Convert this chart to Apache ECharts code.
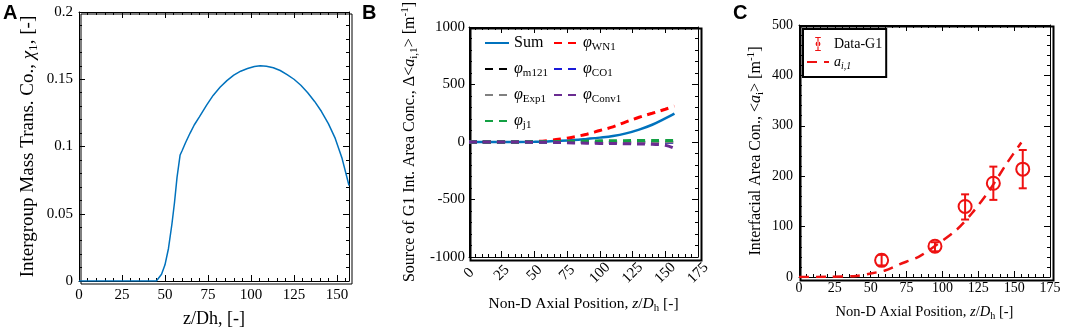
<!DOCTYPE html>
<html>
<head>
<meta charset="utf-8">
<script src="https://cdn.jsdelivr.net/npm/echarts@6/dist/echarts.min.js"></script>
<style>
  html, body { margin: 0; padding: 0; background: #fff; }
  #wrap { position: relative; width: 1065px; height: 331px; }
  .layer { position: absolute; left: 0; top: 0; width: 1065px; height: 331px; }
</style>
</head>
<body>
<div id="wrap">
  <div class="layer" id="panelA"></div>
  <div class="layer" id="panelB"></div>
  <div class="layer" id="panelC"></div>
</div>
<script>
  // ---- data ----
  // A: intergroup mass transfer coefficient vs z/Dh
  const chiCurve = [[0,0],[20,0],[45,0],[46,0.001],[48,0.005],[50,0.012],[52,0.024],[54,0.042],[55.5,0.058],[57,0.077],
    [58.8,0.0937],[60,0.097],[62,0.103],[64.6,0.110],[67,0.116],[70,0.122],[74.3,0.131],[78,0.138],[82,0.144],[86,0.149],
    [90,0.153],[94,0.156],[98,0.158],[102,0.1595],[105.4,0.160],[109,0.1597],[113,0.1585],[117,0.1565],[121,0.1535],
    [125,0.150],[129,0.1455],[133,0.140],[137,0.1335],[141,0.126],[145,0.117],[149,0.106],[153,0.091],[157,0.071]]

  // B: source terms of G1 interfacial area concentration
  const srcSum = [[0,0],[25,0],[50,2],[60,5],[70,10],[80,17],[90,27],[100,38],[110,52],[120,75],[130,108],[140,150],[150,205],[157,247]]
  const srcWN1 = [[0,0],[25,0],[50,4],[60,12],[70,26],[80,44],[90,68],[100,100],[110,132],[120,175],[130,215],[140,250],[150,285],[157,312]]
  const srcM121 = [[0,0],[60,-1],[100,-3],[157,-5]]
  const srcCO1 = [[0,0],[60,-1],[100,-3],[157,-4]]
  const srcExp1 = [[0,0],[157,0]]
  const srcConv1 = [[0,0],[60,-2],[80,-8],[100,-12],[120,-15],[140,-20],[150,-28],[157,-55]]
  const srcJ1 = [[0,0],[60,2],[100,10],[157,14]]

  // C: measured <ai> with error bars [z, value, low, high] and model curve
  const dataG1 = [[57.6,33,23,44],[94.8,61,51,69],[115.8,140,114,164],[135.5,186,153,219],[156,214,176,252]]
  const modelA1 = [[0,0],[20,0.5],[40,2],[50,7],[60,13],[70,25],[84,41],[96,64],[110,94],[121,128],[133,173],[145,226],[155,267]]

  const serif = 'Liberation Serif'
  const black = '#000'

  // rich text for sub/superscripts
  function richSet(fs) {
    return {
      i: { fontFamily: serif, fontStyle: 'italic', fontSize: fs, lineHeight: fs + 4, color: black },
      s: { fontFamily: serif, fontSize: fs * 0.7, lineHeight: fs * 0.7 + 2, verticalAlign: 'bottom', color: black },
      si: { fontFamily: serif, fontStyle: 'italic', fontSize: fs * 0.7, lineHeight: fs * 0.7 + 2, verticalAlign: 'bottom', color: black },
      p: { fontFamily: serif, fontSize: fs * 0.7, lineHeight: fs * 0.7 + 2, verticalAlign: 'top', color: black },
    }
  }

  /** one axis (main or mirrored), each panel is its own chart so gridIndex is 0 */
  function axis(o) {
    const step = o.interval
    const a = {
      type: 'value',
      gridIndex: 0,
      position: o.pos,
      min: o.min, max: o.max, interval: o.interval,
      name: o.name || '',
      nameLocation: 'middle',
      nameGap: o.nameGap || 0,
      nameRotate: o.nameRotate || 0,
      nameTextStyle: { fontFamily: serif, fontSize: o.nameSize || 15, lineHeight: (o.nameSize || 15) + 4, color: black, rich: richSet(o.nameSize || 15) },
      axisLine: { show: true, onZero: false, lineStyle: { color: black } },
      axisTick: { show: true, inside: true, length: 6, lineStyle: { color: black } },
      minorTick: { show: true, splitNumber: 5, length: 3 },
      splitLine: { show: false },
      axisLabel: {
        show: !o.mirror,
        fontFamily: serif, fontSize: o.labelSize || 15, color: black,
        margin: o.margin || 6, rotate: o.rotate || 0,
        // the end of an axis that is not on the tick step gets no label
        formatter: function (v) {
          const k = (v - o.min) / step
          return Math.abs(k - Math.round(k)) < 1e-6 ? String(v) : ''
        },
      },
    }
    if (o.rotate) {
      a.axisLabel.align = 'center'
      a.axisLabel.verticalAlign = 'middle'
    }
    return a
  }

  function letter(txt, left) {
    return { type: 'text', left: left, top: 3, style: { text: txt, fontFamily: 'Liberation Sans', fontWeight: 'bold', fontSize: 20, fill: black } }
  }

  const legendRich = {
    ph: { fontFamily: serif, fontStyle: 'italic', fontSize: 16, lineHeight: 20, color: black },
    s: { fontFamily: serif, fontSize: 11, lineHeight: 13, verticalAlign: 'bottom', color: black },
  }
  function phiFmt(name) {
    if (name[0] === 'φ') return '{ph|φ}{s|' + name.slice(1) + '}'
    return name
  }

  const dash = [8, 6]

  // ---- panel A ----
  const optionA = {
    animation: false,
    grid: [{ left: 79, top: 12, width: 270, height: 269, outerBoundsMode: 'none' }],
    graphic: [
      letter('A', 3),
      { type: 'rect', left: 78.5, top: 11.5, shape: { width: 271, height: 270 }, style: { fill: 'none', stroke: black, lineWidth: 1 }, z: 1 },
    ],
    xAxis: [
      axis({ pos: 'bottom', min: 0, max: 157, interval: 25, margin: 7,
        name: 'z/Dh, [-]', nameGap: 25, nameSize: 18 }),
      axis({ pos: 'top', min: 0, max: 157, interval: 25, mirror: true }),
    ],
    yAxis: [
      axis({ pos: 'left', min: 0, max: 0.2, interval: 0.05, margin: 6,
        name: 'Intergroup Mass Trans. Co., {i|χ}{s|1}, [-]', nameGap: 39, nameRotate: 90, nameSize: 19 }),
      axis({ pos: 'right', min: 0, max: 0.2, interval: 0.05, mirror: true }),
    ],
    series: [
      { name: 'chi1', type: 'line', xAxisIndex: 0, yAxisIndex: 0, data: chiCurve, symbol: 'none',
        itemStyle: { color: '#0072BD' }, lineStyle: { color: '#0072BD', width: 1.5 } },
    ],
  }

  // ---- panel B ----
  function bLine(name, data, color, solid) {
    return {
      name: name, type: 'line', xAxisIndex: 0, yAxisIndex: 0, data: data, symbol: 'none', smooth: 0.4,
      itemStyle: { color: color },
      lineStyle: { color: color, width: solid ? 2.5 : 3, type: solid ? 'solid' : dash },
    }
  }
  const optionB = {
    animation: false,
    grid: [{ left: 469, top: 27, width: 229, height: 230, outerBoundsMode: 'none' }],
    graphic: [
      letter('B', 362),
      { type: 'rect', left: 468, top: 26, shape: { width: 231, height: 232 }, style: { fill: 'none', stroke: black, lineWidth: 2 }, z: 1 },
    ],
    xAxis: [
      axis({ pos: 'bottom', min: 0, max: 175, interval: 25, rotate: 45, margin: 16,
        name: 'Non-D Axial Position, {i|z}/{i|D}{s|h} [-]', nameGap: 37, nameSize: 15.5 }),
      axis({ pos: 'top', min: 0, max: 175, interval: 25, mirror: true }),
    ],
    yAxis: [
      axis({ pos: 'left', min: -1000, max: 1000, interval: 500, margin: 4,
        name: 'Source of G1 Int. Area Conc., Δ<{i|a}{s|i,1}> [m{p|-1}]', nameGap: 49, nameRotate: 90, nameSize: 16 }),
      axis({ pos: 'right', min: -1000, max: 1000, interval: 500, mirror: true }),
    ],
    legend: [
      {
        orient: 'vertical', left: 484, top: 33, padding: 0, itemGap: 6, itemWidth: 24, itemHeight: 14,
        selectedMode: false, data: ['Sum', 'φm121', 'φExp1', 'φj1'], formatter: phiFmt,
        itemStyle: { opacity: 0 },
        textStyle: { fontFamily: serif, fontSize: 16, lineHeight: 20, color: black, rich: legendRich },
      },
      {
        orient: 'vertical', left: 553, top: 33, padding: 0, itemGap: 6, itemWidth: 24, itemHeight: 14,
        selectedMode: false, data: ['φWN1', 'φCO1', 'φConv1'], formatter: phiFmt,
        itemStyle: { opacity: 0 },
        textStyle: { fontFamily: serif, fontSize: 16, lineHeight: 20, color: black, rich: legendRich },
      },
    ],
    series: [
      bLine('Sum', srcSum, '#0072BD', true),
      bLine('φWN1', srcWN1, '#ff0000'),
      bLine('φm121', srcM121, '#000000'),
      bLine('φCO1', srcCO1, '#1a1ad8'),
      bLine('φExp1', srcExp1, '#808080'),
      bLine('φj1', srcJ1, '#13a043'),
      bLine('φConv1', srcConv1, '#6a2c91'),
    ],
  }

  // ---- panel C ----
  const optionC = {
    animation: false,
    grid: [{ left: 799, top: 25, width: 251, height: 252, outerBoundsMode: 'none' }],
    graphic: [
      letter('C', 733),
      { type: 'rect', left: 798, top: 24, shape: { width: 253, height: 254 }, style: { fill: 'none', stroke: black, lineWidth: 2 }, z: 1 },
    ],
    xAxis: [
      axis({ pos: 'bottom', min: 0, max: 175, interval: 25, labelSize: 14, margin: 4,
        name: 'Non-D Axial Position, {i|z}/{i|D}{s|h} [-]', nameGap: 26, nameSize: 14.5 }),
      axis({ pos: 'top', min: 0, max: 175, interval: 25, mirror: true }),
    ],
    yAxis: [
      axis({ pos: 'left', min: 0, max: 500, interval: 100, labelSize: 14, margin: 6,
        name: 'Interfacial Area Con., <{i|a}{s|i}> [m{p|-1}]', nameGap: 33, nameRotate: 90, nameSize: 16 }),
      axis({ pos: 'right', min: 0, max: 500, interval: 100, mirror: true }),
    ],
    legend: [
      {
        orient: 'vertical', left: 803, top: 29, padding: [6, 4, 6, 3], itemGap: 0, itemWidth: 22, itemHeight: 14,
        borderColor: black, borderWidth: 2, backgroundColor: '#fff', selectedMode: false,
        data: [
          { name: 'Data-G1', icon: 'path://M0,0H8V1.6H0Z M3.2,1.6H4.8V18.4H3.2Z M0,18.4H8V20H0Z M4,6.5A3.5,3.5 0 1,0 4.001,6.5Z' },
          { name: 'ai,1', itemStyle: { opacity: 0 } },
        ],
        formatter: function (name) {
          return name === 'ai,1' ? '{i|a}{si|i,1}' : name
        },
        textStyle: { fontFamily: serif, fontSize: 14, lineHeight: 18, color: black, rich: richSet(14) },
      },
    ],
    series: [
      { name: 'ai,1', type: 'line', xAxisIndex: 0, yAxisIndex: 0, data: modelA1, symbol: 'none', smooth: 0.3,
        itemStyle: { color: '#ee1111' }, lineStyle: { color: '#ee1111', width: 2.5, type: [10, 7] } },
      {
        name: 'Data-G1', type: 'custom', xAxisIndex: 0, yAxisIndex: 0, data: dataG1,
        encode: { x: 0, y: 1 },
        itemStyle: { color: '#ee1111' },
        renderItem: function (params, api) {
          const x = api.value(0)
          const c = api.coord([x, api.value(1)])
          const lo = api.coord([x, api.value(2)])
          const hi = api.coord([x, api.value(3)])
          const st = { stroke: '#ee1111', lineWidth: 2, fill: 'none' }
          return {
            type: 'group',
            children: [
              { type: 'line', shape: { x1: c[0], y1: lo[1], x2: c[0], y2: hi[1] }, style: st },
              { type: 'line', shape: { x1: c[0] - 4, y1: lo[1], x2: c[0] + 4, y2: lo[1] }, style: st },
              { type: 'line', shape: { x1: c[0] - 4, y1: hi[1], x2: c[0] + 4, y2: hi[1] }, style: st },
              { type: 'circle', shape: { cx: c[0], cy: c[1], r: 6.5 }, style: st },
            ],
          }
        },
      },
    ],
  }

  echarts.init(document.getElementById('panelA')).setOption(optionA)
  echarts.init(document.getElementById('panelB')).setOption(optionB)
  echarts.init(document.getElementById('panelC')).setOption(optionC)
</script>
</body>
</html>
